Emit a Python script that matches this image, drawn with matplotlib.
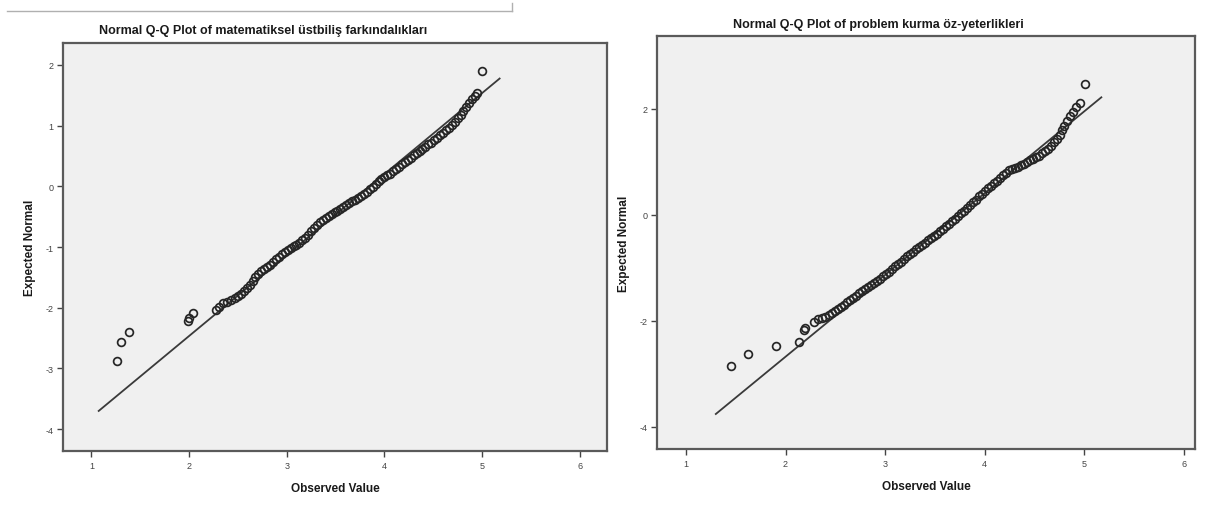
import matplotlib
matplotlib.use("Agg")
import matplotlib.pyplot as plt
from matplotlib.lines import Line2D

plt.rcParams['font.family'] = ['Liberation Sans', 'DejaVu Sans']

# ---------------- data ----------------
title_left = "Normal Q-Q Plot of matematiksel üstbiliş farkındalıkları"
title_right = "Normal Q-Q Plot of problem kurma öz-yeterlikleri"
xlabel = "Observed Value"
ylabel = "Expected Normal"

left_obs = [1.26, 1.30, 1.39, 1.99, 2.00, 2.04,
            2.28, 2.31, 2.35, 2.39, 2.43, 2.47, 2.50, 2.53, 2.56, 2.59,
            2.62, 2.65, 2.68, 2.71, 2.74, 2.77, 2.80, 2.83, 2.86, 2.89,
            2.92, 2.95, 2.98, 3.01, 3.04, 3.07, 3.10, 3.13, 3.16, 3.19,
            3.22, 3.25, 3.28, 3.31, 3.34, 3.37, 3.40, 3.43, 3.46, 3.49,
            3.52, 3.55, 3.58, 3.61, 3.64, 3.67, 3.70, 3.73, 3.76, 3.79,
            3.82, 3.85, 3.88, 3.91, 3.94, 3.97, 4.00, 4.03, 4.06, 4.09,
            4.12, 4.15, 4.18, 4.21, 4.24, 4.27, 4.30, 4.33, 4.36, 4.39,
            4.42, 4.45, 4.48, 4.51, 4.54, 4.57, 4.60, 4.63, 4.66, 4.69,
            4.72, 4.75, 4.78, 4.81, 4.84, 4.87, 4.90, 4.93, 4.95, 5.00]
left_exp = [-2.88, -2.57, -2.40, -2.22, -2.17, -2.08,
            -2.03, -1.98, -1.93, -1.90, -1.87, -1.84, -1.81, -1.78, -1.73, -1.67,
            -1.62, -1.56, -1.50, -1.44, -1.40, -1.37, -1.33, -1.29, -1.25, -1.20,
            -1.16, -1.12, -1.08, -1.05, -1.02, -0.99, -0.96, -0.93, -0.89, -0.85,
            -0.80, -0.74, -0.68, -0.63, -0.59, -0.56, -0.52, -0.49, -0.46, -0.43,
            -0.40, -0.37, -0.34, -0.31, -0.28, -0.25, -0.22, -0.19, -0.16, -0.13,
            -0.09, -0.05, -0.01, 0.04, 0.08, 0.12, 0.15, 0.18, 0.21, 0.25,
            0.28, 0.32, 0.36, 0.40, 0.44, 0.47, 0.51, 0.55, 0.58, 0.62,
            0.65, 0.69, 0.72, 0.76, 0.80, 0.84, 0.88, 0.92, 0.96, 1.01,
            1.06, 1.12, 1.18, 1.24, 1.30, 1.37, 1.43, 1.49, 1.54, 1.90]
left_line_x = [1.075, 5.18]
left_line_y = [-3.70, 1.775]

right_obs = [1.45, 1.62, 1.90, 2.14, 2.19, 2.20,
             2.285, 2.33, 2.37, 2.40, 2.44, 2.47, 2.50, 2.53, 2.56, 2.59,
             2.62, 2.65, 2.68, 2.71, 2.74, 2.77, 2.80, 2.83, 2.86, 2.89,
             2.92, 2.95, 2.98, 3.01, 3.04, 3.07, 3.10, 3.13, 3.16, 3.19,
             3.22, 3.25, 3.28, 3.31, 3.34, 3.37, 3.40, 3.43, 3.46, 3.49,
             3.52, 3.55, 3.58, 3.61, 3.64, 3.67, 3.70, 3.73, 3.76, 3.79,
             3.82, 3.85, 3.88, 3.91, 3.94, 3.97, 4.00, 4.03, 4.06, 4.09,
             4.12, 4.15, 4.18, 4.21, 4.24, 4.27, 4.30, 4.33, 4.36, 4.39,
             4.42, 4.45, 4.48, 4.51, 4.54, 4.57, 4.60, 4.63, 4.66, 4.69,
             4.72, 4.75, 4.78, 4.80, 4.83, 4.86, 4.89, 4.92, 4.96, 5.01]
right_exp = [-2.855, -2.63, -2.48, -2.39, -2.17, -2.13,
             -2.01, -1.97, -1.94, -1.92, -1.88, -1.85, -1.82, -1.78, -1.73, -1.69,
             -1.64, -1.60, -1.56, -1.52, -1.48, -1.44, -1.40, -1.36, -1.32, -1.28,
             -1.24, -1.20, -1.16, -1.12, -1.07, -1.02, -0.97, -0.93, -0.88, -0.83,
             -0.78, -0.74, -0.69, -0.64, -0.60, -0.56, -0.52, -0.47, -0.43, -0.39,
             -0.35, -0.30, -0.26, -0.21, -0.17, -0.12, -0.07, -0.02, 0.03, 0.08,
             0.13, 0.18, 0.24, 0.29, 0.35, 0.40, 0.45, 0.50, 0.55, 0.60,
             0.65, 0.70, 0.75, 0.80, 0.84, 0.87, 0.89, 0.91, 0.94, 0.97,
             1.00, 1.03, 1.06, 1.09, 1.12, 1.16, 1.20, 1.25, 1.31, 1.37,
             1.44, 1.51, 1.60, 1.68, 1.77, 1.86, 1.95, 2.03, 2.12, 2.47]
right_line_x = [1.30, 5.17]
right_line_y = [-3.755, 2.22]

left_xticks = [1, 2, 3, 4, 5, 6]
left_yticks = [-4, -3, -2, -1, 0, 1, 2]
right_xticks = [1, 2, 3, 4, 5, 6]
right_yticks = [-4, -2, 0, 2]

# ---------------- figure ----------------
W, H = 1210, 506
fig = plt.figure(figsize=(W / 100, H / 100), dpi=100)
fig.patch.set_facecolor('white')

ax1 = fig.add_axes([0.0521, 0.1067, 0.4496, 0.8063])
ax2 = fig.add_axes([0.5430, 0.1107, 0.4446, 0.8162])


def style(ax, obs, exp, lx, ly, xt, yt, xlim, ylim):
    ax.set_facecolor('#F0F0F0')
    ax.plot(lx, ly, color='#3a3a3a', lw=1.3, zorder=2)
    ax.plot(obs, exp, linestyle='none', marker='o', markersize=5.6,
            markerfacecolor='none', markeredgecolor='#262626',
            markeredgewidth=1.25, zorder=3)
    ax.set_xlim(*xlim)
    ax.set_ylim(*ylim)
    ax.set_xticks(xt)
    ax.set_yticks(yt)
    ax.set_xticklabels([str(v) for v in xt])
    ax.set_yticklabels([str(v) for v in yt])
    ax.tick_params(direction='out', length=4, width=1, colors='#444444',
                   labelsize=6.5, pad=3)
    for s in ax.spines.values():
        s.set_color('#5a5a5a')
        s.set_linewidth(1.6)
    ax.set_xlabel(xlabel, fontsize=8.5, fontweight='bold', color='#1a1a1a',
                  labelpad=9)
    ax.set_ylabel(ylabel, fontsize=8.5, fontweight='bold', color='#1a1a1a',
                  labelpad=7)


style(ax1, left_obs, left_exp, left_line_x, left_line_y,
      left_xticks, left_yticks, (0.71, 6.28), (-4.36, 2.36))
style(ax2, right_obs, right_exp, right_line_x, right_line_y,
      right_xticks, right_yticks, (0.71, 6.11), (-4.415, 3.377))

fig.text(263 / W, 1 - 31 / H, title_left, ha='center', va='center',
         fontsize=9, fontweight='bold', color='#1a1a1a')
fig.text(878 / W, 1 - 25 / H, title_right, ha='center', va='center',
         fontsize=9, fontweight='bold', color='#1a1a1a')

# document separator line at the top left
fig.add_artist(Line2D([7 / W, 512 / W], [1 - 12 / H, 1 - 12 / H],
                      transform=fig.transFigure, color='#b0b0b0', lw=1.0))
fig.add_artist(Line2D([512 / W, 512 / W], [1 - 12 / H, 1 - 4 / H],
                      transform=fig.transFigure, color='#b0b0b0', lw=1.0))

fig.savefig('out.png', dpi=100, facecolor='white')
